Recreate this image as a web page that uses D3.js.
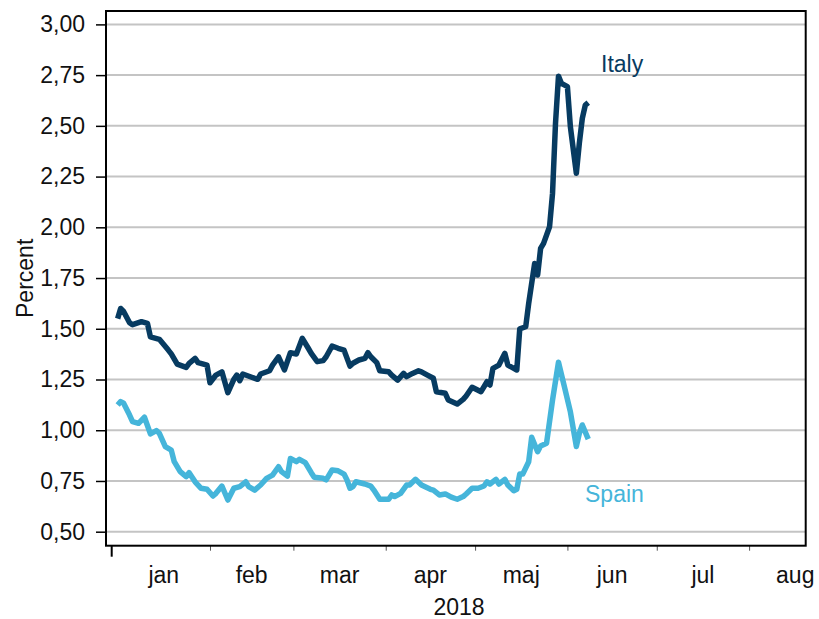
<!DOCTYPE html>
<html>
<head>
<meta charset="utf-8">
<script src="https://cdn.jsdelivr.net/npm/d3@7"></script>
<style>
  body { margin: 0; background: #fff; }
  svg text { font-family: "Liberation Sans", Arial, sans-serif; }
</style>
</head>
<body>
<div id="chart"></div>
<script>
// Italy
const italyDates = ["2018-01-01","2018-01-02","2018-01-03","2018-01-05","2018-01-06","2018-01-09","2018-01-11","2018-01-12","2018-01-15","2018-01-18","2018-01-19","2018-01-21","2018-01-24","2018-01-25","2018-01-27","2018-01-28","2018-01-31",
  "2018-02-01","2018-02-03","2018-02-05","2018-02-07","2018-02-09","2018-02-10","2018-02-11","2018-02-12","2018-02-15","2018-02-17","2018-02-18","2018-02-21","2018-02-22","2018-02-24","2018-02-26","2018-02-28",
  "2018-03-02","2018-03-04","2018-03-06","2018-03-07","2018-03-09","2018-03-11","2018-03-12","2018-03-14","2018-03-16","2018-03-18","2018-03-20","2018-03-21","2018-03-23","2018-03-25","2018-03-26","2018-03-27","2018-03-29","2018-03-30",
  "2018-04-02","2018-04-03","2018-04-05","2018-04-07","2018-04-08","2018-04-10","2018-04-12","2018-04-13","2018-04-15","2018-04-17","2018-04-18","2018-04-21","2018-04-22","2018-04-25","2018-04-27","2018-04-28","2018-04-30",
  "2018-05-03","2018-05-05","2018-05-06","2018-05-07","2018-05-09","2018-05-11","2018-05-12","2018-05-14","2018-05-15","2018-05-16","2018-05-18","2018-05-19","2018-05-21","2018-05-22","2018-05-23","2018-05-24","2018-05-26","2018-05-27","2018-05-28","2018-05-29","2018-05-30",
  "2018-06-01","2018-06-02","2018-06-04","2018-06-05","2018-06-06","2018-06-07","2018-06-08"];
const italyValues = [1.55,1.60,1.585,1.53,1.52,1.535,1.527,1.46,1.448,1.395,1.376,1.326,1.31,1.33,1.354,1.333,1.321,
  1.234,1.272,1.288,1.185,1.251,1.272,1.244,1.277,1.261,1.251,1.277,1.293,1.321,1.362,1.297,1.382,
  1.376,1.453,1.404,1.379,1.338,1.343,1.362,1.415,1.404,1.395,1.316,1.33,1.346,1.354,1.382,1.362,1.333,1.293,
  1.288,1.272,1.247,1.28,1.264,1.28,1.293,1.288,1.272,1.256,1.19,1.182,1.149,1.129,1.152,1.169,1.212,
  1.19,1.239,1.223,1.305,1.321,1.379,1.321,1.305,1.297,1.50,1.51,1.625,1.822,1.765,1.896,1.921,2.003,2.167,2.512,2.745,2.709,
  2.693,2.495,2.266,2.414,2.537,2.602,2.614];

// Spain
const spainDates = ["2018-01-01","2018-01-02","2018-01-03","2018-01-05","2018-01-06","2018-01-08","2018-01-10","2018-01-12","2018-01-14","2018-01-15","2018-01-17","2018-01-19","2018-01-20","2018-01-22","2018-01-24","2018-01-25","2018-01-27","2018-01-29","2018-01-31",
  "2018-02-02","2018-02-03","2018-02-05","2018-02-07","2018-02-09","2018-02-11","2018-02-13","2018-02-14","2018-02-16","2018-02-18","2018-02-20","2018-02-22","2018-02-24","2018-02-25","2018-02-27","2018-02-28",
  "2018-03-02","2018-03-03","2018-03-05","2018-03-07","2018-03-08","2018-03-11","2018-03-12","2018-03-14","2018-03-16","2018-03-18","2018-03-19","2018-03-20","2018-03-21","2018-03-22","2018-03-25","2018-03-27","2018-03-28","2018-03-30",
  "2018-04-02","2018-04-03","2018-04-04","2018-04-06","2018-04-08","2018-04-09","2018-04-11","2018-04-13","2018-04-16","2018-04-17","2018-04-19","2018-04-21","2018-04-23","2018-04-25","2018-04-27","2018-04-28","2018-04-30",
  "2018-05-02","2018-05-04","2018-05-05","2018-05-06","2018-05-08","2018-05-09","2018-05-11","2018-05-12","2018-05-14","2018-05-15","2018-05-16","2018-05-17","2018-05-19","2018-05-20","2018-05-22","2018-05-23","2018-05-25","2018-05-27","2018-05-29","2018-05-31",
  "2018-06-02","2018-06-04","2018-06-05","2018-06-06","2018-06-08"];
const spainValues = [1.124,1.141,1.133,1.075,1.042,1.034,1.064,0.982,0.998,0.985,0.919,0.902,0.845,0.796,0.771,0.791,0.746,0.714,0.709,
  0.676,0.689,0.725,0.656,0.714,0.722,0.746,0.722,0.705,0.73,0.763,0.779,0.82,0.796,0.774,0.861,
  0.845,0.857,0.84,0.791,0.768,0.763,0.755,0.804,0.80,0.784,0.755,0.714,0.722,0.746,0.735,0.725,0.705,0.66,
  0.66,0.681,0.673,0.689,0.73,0.73,0.758,0.73,0.709,0.705,0.681,0.686,0.67,0.66,0.673,0.686,0.714,
  0.714,0.725,0.746,0.735,0.758,0.735,0.758,0.73,0.702,0.709,0.784,0.784,0.845,0.965,0.894,0.922,0.936,1.149,1.335,1.214,
  1.09,0.92,0.985,1.026,0.956];

const monthLabels = ["jan","feb","mar","apr","maj","jun","jul","aug"];
const yTicks = [0.5,0.75,1.0,1.25,1.5,1.75,2.0,2.25,2.5,2.75,3.0];
const yearLabel = "2018";

const width = 819, height = 619;
const box = { left: 106, right: 805.7, top: 11, bottom: 545.7 };
const colItaly = "#073b61", colSpain = "#45b5da";

const parse = d3.timeParse("%Y-%m-%d");
const locale = d3.formatLocale({ decimal: ",", thousands: ".", grouping: [3], currency: ["", " kr"] });
const fmt = locale.format(".2f");

const x = d3.scaleTime()
    .domain([new Date(2017, 11, 30), new Date(2018, 7, 20)])
    .range([111.7, box.right]);
const y = d3.scaleLinear()
    .domain([0.431, 3.066])
    .range([box.bottom, box.top]);

const svg = d3.select("#chart").append("svg")
    .attr("width", width).attr("height", height);

// gridlines
svg.append("g").selectAll("line").data(yTicks).join("line")
    .attr("x1", box.left).attr("x2", box.right)
    .attr("y1", d => y(d)).attr("y2", d => y(d))
    .attr("stroke", "#c4c4c4").attr("stroke-width", 2);

// y axis
const yAxis = svg.append("g")
    .attr("transform", `translate(${box.left},0)`)
    .call(d3.axisLeft(y).tickValues(yTicks).tickFormat(fmt).tickSize(10).tickPadding(11));
yAxis.select(".domain").remove();
yAxis.selectAll(".tick line").attr("stroke", "#000").attr("stroke-width", 1.5);
yAxis.selectAll(".tick text").attr("font-size", 23).attr("fill", "#111")
    .attr("font-family", "'Liberation Sans', Arial, sans-serif");

// x axis: month ticks
const monthStarts = d3.timeMonth.range(new Date(2018, 0, 1), new Date(2018, 8, 1));
const xAxis = svg.append("g")
    .attr("transform", `translate(0,${box.bottom})`)
    .call(d3.axisBottom(x).tickValues(monthStarts.slice(1)).tickSize(5).tickFormat(""));
xAxis.select(".domain").remove();
xAxis.selectAll(".tick line").attr("stroke", "#555").attr("stroke-width", 1);

// start tick
svg.append("line")
    .attr("x1", x.range()[0]).attr("x2", x.range()[0])
    .attr("y1", box.bottom).attr("y2", box.bottom + 11)
    .attr("stroke", "#000").attr("stroke-width", 2);

// month labels, centred in each month
const domainStart = x.domain()[0];
svg.append("g").selectAll("text").data(monthStarts).join("text")
    .attr("x", (d, i) => {
      const s = d < domainStart ? domainStart : d;
      const e = d3.timeMonth.offset(d, 1);
      return (x(s) + x(e)) / 2;
    })
    .attr("y", 583)
    .attr("text-anchor", "middle")
    .attr("font-size", 23).attr("fill", "#111")
    .text((d, i) => monthLabels[i]);

svg.append("text")
    .attr("x", 459).attr("y", 615)
    .attr("text-anchor", "middle")
    .attr("font-size", 23).attr("fill", "#111")
    .text(yearLabel);

svg.append("text")
    .attr("transform", `translate(33,${(box.top + box.bottom) / 2}) rotate(-90)`)
    .attr("text-anchor", "middle")
    .attr("font-size", 23).attr("fill", "#111")
    .text("Percent");

// lines
const line = d3.line()
    .x(d => x(d.date))
    .y(d => y(d.value));

const italy = italyDates.map((d, i) => ({ date: parse(d), value: italyValues[i] }));
const spain = spainDates.map((d, i) => ({ date: parse(d), value: spainValues[i] }));

svg.append("path").datum(spain)
    .attr("d", line)
    .attr("fill", "none").attr("stroke", colSpain)
    .attr("stroke-width", 5.5).attr("stroke-linejoin", "round");

svg.append("path").datum(italy)
    .attr("d", line)
    .attr("fill", "none").attr("stroke", colItaly)
    .attr("stroke-width", 5.5).attr("stroke-linejoin", "round");

// frame
svg.append("rect")
    .attr("x", box.left).attr("y", box.top)
    .attr("width", box.right - box.left).attr("height", box.bottom - box.top)
    .attr("fill", "none").attr("stroke", "#000").attr("stroke-width", 2);

// series labels
svg.append("text").attr("x", 601).attr("y", 72)
    .attr("font-size", 23).attr("fill", colItaly).text("Italy");
svg.append("text").attr("x", 585).attr("y", 502)
    .attr("font-size", 23).attr("fill", colSpain).text("Spain");
</script>
</body>
</html>
